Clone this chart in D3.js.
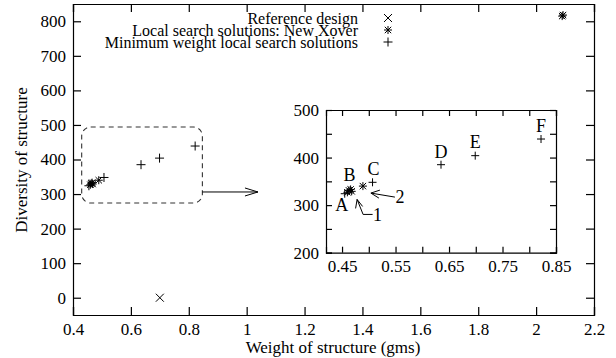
<!DOCTYPE html>
<html>
<head>
<meta charset="utf-8">
<script src="https://cdn.jsdelivr.net/npm/d3@7"></script>
<style>
body { margin: 0; background: #fff; }
svg text { font-family: "Liberation Serif", "DejaVu Serif", serif; fill: #000; }
.axis path, .axis line { stroke: #000; stroke-width: 1.2; }
</style>
</head>
<body>
<svg id="chart" width="616" height="358"></svg>
<script>
// data
var refDesign = [[0.70, 0]];
var xoverPts = [[0.460, 327], [0.463, 331], [0.466, 333], [0.468, 329], [0.489, 340], [2.090, 815], [2.093, 818]];
var minWeightPts = [[0.455, 324], [0.507, 348], [0.635, 385], [0.699, 404], [0.822, 439]];

var mainXTicks = [0.4, 0.6, 0.8, 1, 1.2, 1.4, 1.6, 1.8, 2, 2.2];
var mainYTicks = [0, 100, 200, 300, 400, 500, 600, 700, 800];
var insetXTicks = [0.45, 0.5, 0.55, 0.6, 0.65, 0.7, 0.75, 0.8, 0.85];
var insetXLabels = [0.45, 0.55, 0.65, 0.75, 0.85];
var insetYTicks = [200, 250, 300, 350, 400, 450, 500];
var insetYLabels = [200, 300, 400, 500];

var legendItems = ["Reference design", "Local search solutions: New Xover", "Minimum weight local search solutions"];

// letters in the inset: [x, y, label]
var pointLabels = [[0.455, 324, "A"], [0.466, 333, "B"], [0.507, 348, "C"], [0.635, 385, "D"], [0.699, 404, "E"], [0.822, 439, "F"]];
// label offsets in px from the point
var labelOffsets = [[-3, 17], [-1, -8], [1, -7], [0, -7], [0, -7.5], [0, -7]];

var svg = d3.select("#chart");
var FS = "17px";

var x = d3.scaleLinear().domain([0.4, 2.2]).range([73, 594]);
var y = d3.scaleLinear().domain([-50, 850]).range([315, 4]);

var xi = d3.scaleLinear().domain([0.42, 0.85]).range([326, 556]);
var yi = d3.scaleLinear().domain([200, 500]).range([252.7, 110]);

function fmt(d){ return String(d); }

// main axes
svg.append("g").attr("class", "axis").attr("transform", "translate(0,315)")
    .call(d3.axisBottom(x).tickValues(mainXTicks).tickFormat(fmt).tickSize(-8).tickPadding(8))
    .call(function(g){ g.selectAll("text").style("font-size", FS); });
svg.append("g").attr("class", "axis").attr("transform", "translate(0,4)")
    .call(d3.axisTop(x).tickValues(mainXTicks).tickFormat("").tickSize(-8));
svg.append("g").attr("class", "axis").attr("transform", "translate(73,0)")
    .call(d3.axisLeft(y).tickValues(mainYTicks).tickFormat(fmt).tickSize(-8).tickPadding(7))
    .call(function(g){ g.selectAll("text").style("font-size", FS); });
svg.append("g").attr("class", "axis").attr("transform", "translate(594,0)")
    .call(d3.axisRight(y).tickValues(mainYTicks).tickFormat("").tickSize(-8));

// axis titles
svg.append("text").attr("x", 333).attr("y", 353).attr("text-anchor", "middle")
    .style("font-size", FS).text("Weight of structure (gms)");
svg.append("text").attr("transform", "translate(27,160) rotate(-90)").attr("text-anchor", "middle")
    .style("font-size", FS).text("Diversity of structure");

// marker helpers
function plus(g, cx, cy, s){
    g.append("path").attr("d", "M" + (cx - s) + "," + cy + "H" + (cx + s) + "M" + cx + "," + (cy - s) + "V" + (cy + s))
        .attr("stroke", "#000").attr("stroke-width", 1).attr("fill", "none");
}
function cross(g, cx, cy, s){
    g.append("path").attr("d", "M" + (cx - s) + "," + (cy - s) + "L" + (cx + s) + "," + (cy + s) + "M" + (cx - s) + "," + (cy + s) + "L" + (cx + s) + "," + (cy - s))
        .attr("stroke", "#000").attr("stroke-width", 1).attr("fill", "none");
}
function star(g, cx, cy, s){
    plus(g, cx, cy, s);
    cross(g, cx, cy, s * 0.8);
}
function line(g, d){
    g.append("path").attr("d", d).attr("stroke", "#000").attr("stroke-width", 1).attr("fill", "none");
}

var pts = svg.append("g");
refDesign.forEach(function(d){ cross(pts, x(d[0]), y(d[1]), 4); });
xoverPts.forEach(function(d){ star(pts, x(d[0]), y(d[1]), 4); });
minWeightPts.forEach(function(d){ plus(pts, x(d[0]), y(d[1]), 4.5); });

// legend (tight rows like the original, slightly smaller type so they don't collide)
var legX = 358, legSym = 388;
legendItems.forEach(function(t, i){
    var base = 24 + i * 12;
    svg.append("text").attr("x", legX).attr("y", base).attr("text-anchor", "end")
        .style("font-size", "16px").text(t);
    var sy = base - 6;
    if (i == 0) cross(svg, legSym, sy, 4);
    if (i == 1) star(svg, legSym, sy, 4);
    if (i == 2) plus(svg, legSym, sy, 4.5);
});

// dashed zoom box
var bx0 = x(0.43), bx1 = x(0.847), by0 = y(494), by1 = y(274);
svg.append("rect").attr("x", bx0).attr("y", by0).attr("width", bx1 - bx0).attr("height", by1 - by0)
    .attr("rx", 9).attr("ry", 9)
    .attr("fill", "none").attr("stroke", "#333").attr("stroke-width", 1.1).attr("stroke-dasharray", "5,4");

// arrow to inset
var ay = y(306), ax1 = x(1.039);
line(svg, "M" + bx1 + "," + ay + "H" + ax1);
line(svg, "M" + (ax1 - 13) + "," + (ay - 4) + "L" + ax1 + "," + ay + "L" + (ax1 - 13) + "," + (ay + 4));

// inset
var inset = svg.append("g");
inset.append("rect").attr("x", 326).attr("y", 110).attr("width", 230).attr("height", 142.7)
    .attr("fill", "#fff");
inset.append("g").attr("class", "axis").attr("transform", "translate(0,252.7)")
    .call(d3.axisBottom(xi).tickValues(insetXTicks)
        .tickFormat(function(d){ return insetXLabels.some(function(v){ return Math.abs(v - d) < 1e-9; }) ? String(d) : ""; })
        .tickSize(-6).tickPadding(7))
    .call(function(g){ g.selectAll("text").style("font-size", FS); });
inset.append("g").attr("class", "axis").attr("transform", "translate(0,110)")
    .call(d3.axisTop(xi).tickValues(insetXTicks).tickFormat("").tickSize(-6));
inset.append("g").attr("class", "axis").attr("transform", "translate(326,0)")
    .call(d3.axisLeft(yi).tickValues(insetYTicks)
        .tickFormat(function(d){ return insetYLabels.indexOf(d) >= 0 ? String(d) : ""; })
        .tickSize(-6).tickPadding(7))
    .call(function(g){ g.selectAll("text").style("font-size", FS); });
inset.append("g").attr("class", "axis").attr("transform", "translate(556,0)")
    .call(d3.axisRight(yi).tickValues(insetYTicks).tickFormat("").tickSize(-6));

var ipts = inset.append("g");
xoverPts.filter(function(d){ return d[0] < 0.85; })
    .forEach(function(d){ star(ipts, xi(d[0]), yi(d[1]), 4); });
minWeightPts.forEach(function(d){ plus(ipts, xi(d[0]), yi(d[1]), 4); });

// point names
pointLabels.forEach(function(p, i){
    inset.append("text").attr("x", xi(p[0]) + labelOffsets[i][0]).attr("y", yi(p[1]) + labelOffsets[i][1])
        .attr("text-anchor", "middle").style("font-size", "18px").text(p[2]);
});

// callout 2 points at the New Xover solution at 0.489
var s2x = xi(0.489), s2y = yi(340);
line(inset, "M" + (s2x + 8) + "," + (s2y + 7) + "L" + (s2x + 32) + "," + (s2y + 11));
line(inset, "M" + (s2x + 17) + "," + (s2y + 4) + "L" + (s2x + 8) + "," + (s2y + 7) + "L" + (s2x + 16) + "," + (s2y + 12));
inset.append("text").attr("x", s2x + 37).attr("y", s2y + 16.5).attr("text-anchor", "middle")
    .style("font-size", "18px").text("2");

// callout 1 points at the cluster under B
var s1x = xi(0.466), s1y = yi(333);
line(inset, "M" + (s1x + 6.5) + "," + (s1y + 10) + "L" + (s1x + 12.5) + "," + (s1y + 25) + "H" + (s1x + 22));
line(inset, "M" + (s1x + 5) + "," + (s1y + 19) + "L" + (s1x + 6.5) + "," + (s1y + 10) + "L" + (s1x + 12) + "," + (s1y + 17));
inset.append("text").attr("x", s1x + 27).attr("y", s1y + 32).attr("text-anchor", "middle")
    .style("font-size", "18px").text("1");
</script>
</body>
</html>
